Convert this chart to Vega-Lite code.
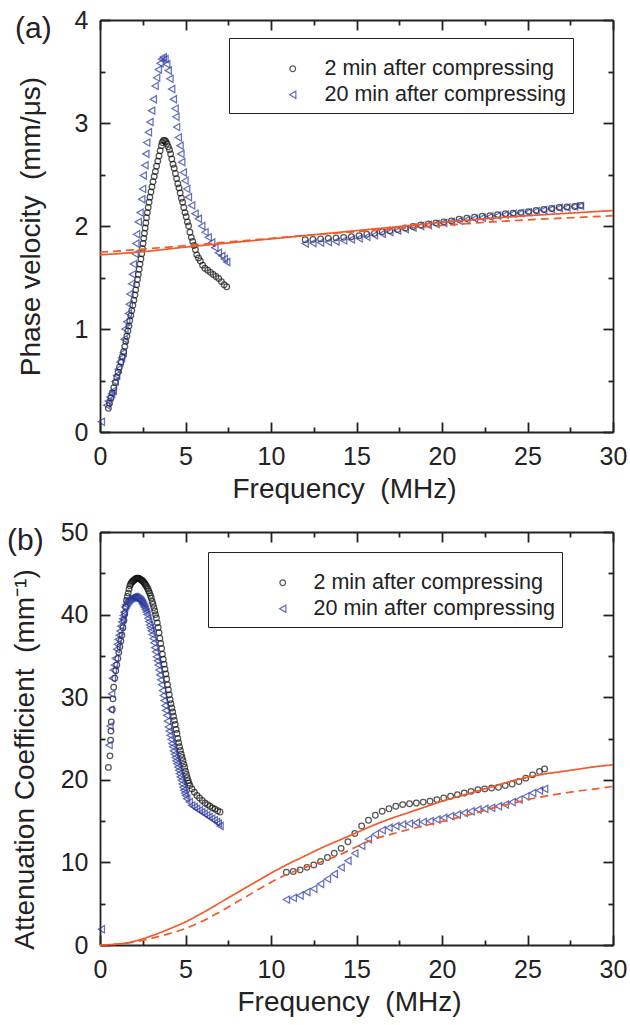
{
"$schema": "https://vega.github.io/schema/vega-lite/v6.json",
"autosize": {"type": "pad"},
"padding": {"left": 7, "top": 8, "right": 5, "bottom": 5},
"bounds": "flush",
"spacing": 100,
"config": {
  "view": {"stroke": null},
  "font": "Liberation Sans",
  "axis": {"grid": false, "domainColor": "#222", "domainWidth": 1.8, "tickColor": "#222", "tickWidth": 1.8, "tickSize": -10,
    "labelFont": "Liberation Sans", "labelFontSize": 25, "labelColor": "#222", "labelFlush": false, "labelOverlap": false, "labelBound": false,
    "titleFont": "Liberation Sans", "titleFontSize": 28, "titleFontWeight": "normal", "titleColor": "#222"},
  "legend": {"labelFont": "Liberation Sans", "labelFontSize": 21.5, "labelColor": "#222", "labelLimit": 600},
  "title": {"font": "Liberation Sans", "fontSize": 30, "fontWeight": "normal", "color": "#222"}
},
"resolve": {"scale": {"color": "independent", "shape": "independent", "size": "independent", "strokeDash": "independent"}},
"vconcat": [
{
  "width": 513, "height": 412,
  "title": {"text": "(a)", "anchor": "start", "frame": "group", "dx": -85, "dy": 40},
  "resolve": {"axis": {"x": "independent", "y": "independent"}},
  "layer": [
  {
    "data": {"values": [
{"s":"2 min after compressing","f":0.49,"v":0.23},{"s":"2 min after compressing","f":0.56,"v":0.28},{"s":"2 min after compressing","f":0.64,"v":0.33},{"s":"2 min after compressing","f":0.72,"v":0.38},{"s":"2 min after compressing","f":0.81,"v":0.43},{"s":"2 min after compressing","f":0.9,"v":0.48},{"s":"2 min after compressing","f":0.98,"v":0.53},{"s":"2 min after compressing","f":1.06,"v":0.58},{"s":"2 min after compressing","f":1.14,"v":0.63},{"s":"2 min after compressing","f":1.23,"v":0.68},{"s":"2 min after compressing","f":1.31,"v":0.73},{"s":"2 min after compressing","f":1.38,"v":0.78},{"s":"2 min after compressing","f":1.45,"v":0.83},{"s":"2 min after compressing","f":1.51,"v":0.88},{"s":"2 min after compressing","f":1.57,"v":0.93},{"s":"2 min after compressing","f":1.63,"v":0.98},{"s":"2 min after compressing","f":1.69,"v":1.03},{"s":"2 min after compressing","f":1.74,"v":1.08},{"s":"2 min after compressing","f":1.8,"v":1.13},{"s":"2 min after compressing","f":1.86,"v":1.18},{"s":"2 min after compressing","f":1.92,"v":1.23},{"s":"2 min after compressing","f":1.98,"v":1.28},{"s":"2 min after compressing","f":2.04,"v":1.33},{"s":"2 min after compressing","f":2.09,"v":1.38},{"s":"2 min after compressing","f":2.14,"v":1.43},{"s":"2 min after compressing","f":2.19,"v":1.48},{"s":"2 min after compressing","f":2.24,"v":1.53},{"s":"2 min after compressing","f":2.29,"v":1.58},{"s":"2 min after compressing","f":2.34,"v":1.63},{"s":"2 min after compressing","f":2.39,"v":1.68},{"s":"2 min after compressing","f":2.44,"v":1.73},{"s":"2 min after compressing","f":2.48,"v":1.78},{"s":"2 min after compressing","f":2.52,"v":1.83},{"s":"2 min after compressing","f":2.56,"v":1.88},{"s":"2 min after compressing","f":2.6,"v":1.93},{"s":"2 min after compressing","f":2.64,"v":1.98},{"s":"2 min after compressing","f":2.68,"v":2.03},{"s":"2 min after compressing","f":2.72,"v":2.08},{"s":"2 min after compressing","f":2.77,"v":2.13},{"s":"2 min after compressing","f":2.82,"v":2.18},{"s":"2 min after compressing","f":2.87,"v":2.23},{"s":"2 min after compressing","f":2.92,"v":2.28},{"s":"2 min after compressing","f":2.98,"v":2.33},{"s":"2 min after compressing","f":3.04,"v":2.38},{"s":"2 min after compressing","f":3.1,"v":2.43},{"s":"2 min after compressing","f":3.17,"v":2.48},{"s":"2 min after compressing","f":3.24,"v":2.53},{"s":"2 min after compressing","f":3.31,"v":2.58},{"s":"2 min after compressing","f":3.38,"v":2.63},{"s":"2 min after compressing","f":3.45,"v":2.68},{"s":"2 min after compressing","f":3.52,"v":2.73},{"s":"2 min after compressing","f":3.59,"v":2.78},{"s":"2 min after compressing","f":3.64,"v":2.81},{"s":"2 min after compressing","f":3.71,"v":2.83},{"s":"2 min after compressing","f":3.78,"v":2.83},{"s":"2 min after compressing","f":3.85,"v":2.82},{"s":"2 min after compressing","f":3.92,"v":2.8},{"s":"2 min after compressing","f":3.99,"v":2.77},{"s":"2 min after compressing","f":4.06,"v":2.74},{"s":"2 min after compressing","f":4.13,"v":2.7},{"s":"2 min after compressing","f":4.2,"v":2.65},{"s":"2 min after compressing","f":4.27,"v":2.6},{"s":"2 min after compressing","f":4.34,"v":2.56},{"s":"2 min after compressing","f":4.41,"v":2.51},{"s":"2 min after compressing","f":4.48,"v":2.46},{"s":"2 min after compressing","f":4.55,"v":2.41},{"s":"2 min after compressing","f":4.62,"v":2.37},{"s":"2 min after compressing","f":4.69,"v":2.32},{"s":"2 min after compressing","f":4.76,"v":2.27},{"s":"2 min after compressing","f":4.83,"v":2.23},{"s":"2 min after compressing","f":4.9,"v":2.18},{"s":"2 min after compressing","f":4.97,"v":2.13},{"s":"2 min after compressing","f":5.04,"v":2.09},{"s":"2 min after compressing","f":5.11,"v":2.04},{"s":"2 min after compressing","f":5.18,"v":2.0},{"s":"2 min after compressing","f":5.26,"v":1.94},{"s":"2 min after compressing","f":5.34,"v":1.89},{"s":"2 min after compressing","f":5.42,"v":1.85},{"s":"2 min after compressing","f":5.5,"v":1.81},{"s":"2 min after compressing","f":5.58,"v":1.77},{"s":"2 min after compressing","f":5.66,"v":1.72},{"s":"2 min after compressing","f":5.76,"v":1.69},{"s":"2 min after compressing","f":5.87,"v":1.66},{"s":"2 min after compressing","f":6.0,"v":1.62},{"s":"2 min after compressing","f":6.14,"v":1.59},{"s":"2 min after compressing","f":6.3,"v":1.57},{"s":"2 min after compressing","f":6.46,"v":1.55},{"s":"2 min after compressing","f":6.62,"v":1.53},{"s":"2 min after compressing","f":6.78,"v":1.51},{"s":"2 min after compressing","f":6.94,"v":1.49},{"s":"2 min after compressing","f":7.1,"v":1.46},{"s":"2 min after compressing","f":7.26,"v":1.43},{"s":"2 min after compressing","f":7.41,"v":1.41},
{"s":"2 min after compressing","f":12.0,"v":1.867},{"s":"2 min after compressing","f":12.45,"v":1.87},{"s":"2 min after compressing","f":12.9,"v":1.875},{"s":"2 min after compressing","f":13.35,"v":1.88},{"s":"2 min after compressing","f":13.8,"v":1.885},{"s":"2 min after compressing","f":14.25,"v":1.89},{"s":"2 min after compressing","f":14.7,"v":1.895},{"s":"2 min after compressing","f":15.15,"v":1.905},{"s":"2 min after compressing","f":15.6,"v":1.92},{"s":"2 min after compressing","f":16.05,"v":1.93},{"s":"2 min after compressing","f":16.5,"v":1.945},{"s":"2 min after compressing","f":16.95,"v":1.955},{"s":"2 min after compressing","f":17.4,"v":1.965},{"s":"2 min after compressing","f":17.85,"v":1.98},{"s":"2 min after compressing","f":18.3,"v":1.995},{"s":"2 min after compressing","f":18.75,"v":2.01},{"s":"2 min after compressing","f":19.2,"v":2.02},{"s":"2 min after compressing","f":19.65,"v":2.03},{"s":"2 min after compressing","f":20.1,"v":2.04},{"s":"2 min after compressing","f":20.55,"v":2.05},{"s":"2 min after compressing","f":21.0,"v":2.065},{"s":"2 min after compressing","f":21.45,"v":2.075},{"s":"2 min after compressing","f":21.9,"v":2.085},{"s":"2 min after compressing","f":22.35,"v":2.095},{"s":"2 min after compressing","f":22.8,"v":2.1},{"s":"2 min after compressing","f":23.25,"v":2.11},{"s":"2 min after compressing","f":23.7,"v":2.12},{"s":"2 min after compressing","f":24.15,"v":2.125},{"s":"2 min after compressing","f":24.6,"v":2.13},{"s":"2 min after compressing","f":25.05,"v":2.14},{"s":"2 min after compressing","f":25.5,"v":2.15},{"s":"2 min after compressing","f":25.95,"v":2.16},{"s":"2 min after compressing","f":26.4,"v":2.17},{"s":"2 min after compressing","f":26.85,"v":2.18},{"s":"2 min after compressing","f":27.3,"v":2.185},{"s":"2 min after compressing","f":27.75,"v":2.19},{"s":"2 min after compressing","f":28.1,"v":2.2},
{"s":"20 min after compressing","f":0.08,"v":0.1},{"s":"20 min after compressing","f":0.39,"v":0.26},{"s":"20 min after compressing","f":0.48,"v":0.3},{"s":"20 min after compressing","f":0.58,"v":0.34},{"s":"20 min after compressing","f":0.68,"v":0.37},{"s":"20 min after compressing","f":0.78,"v":0.4},{"s":"20 min after compressing","f":0.88,"v":0.49},{"s":"20 min after compressing","f":0.97,"v":0.55},{"s":"20 min after compressing","f":1.07,"v":0.61},{"s":"20 min after compressing","f":1.17,"v":0.68},{"s":"20 min after compressing","f":1.26,"v":0.72},{"s":"20 min after compressing","f":1.36,"v":0.77},{"s":"20 min after compressing","f":1.41,"v":0.9},{"s":"20 min after compressing","f":1.46,"v":1.0},{"s":"20 min after compressing","f":1.56,"v":1.07},{"s":"20 min after compressing","f":1.66,"v":1.15},{"s":"20 min after compressing","f":1.71,"v":1.24},{"s":"20 min after compressing","f":1.75,"v":1.34},{"s":"20 min after compressing","f":1.85,"v":1.44},{"s":"20 min after compressing","f":1.9,"v":1.53},{"s":"20 min after compressing","f":1.95,"v":1.63},{"s":"20 min after compressing","f":2.05,"v":1.73},{"s":"20 min after compressing","f":2.1,"v":1.83},{"s":"20 min after compressing","f":2.14,"v":1.92},{"s":"20 min after compressing","f":2.24,"v":2.04},{"s":"20 min after compressing","f":2.34,"v":2.13},{"s":"20 min after compressing","f":2.44,"v":2.26},{"s":"20 min after compressing","f":2.49,"v":2.36},{"s":"20 min after compressing","f":2.53,"v":2.49},{"s":"20 min after compressing","f":2.63,"v":2.59},{"s":"20 min after compressing","f":2.68,"v":2.7},{"s":"20 min after compressing","f":2.73,"v":2.81},{"s":"20 min after compressing","f":2.83,"v":2.91},{"s":"20 min after compressing","f":2.92,"v":3.01},{"s":"20 min after compressing","f":3.02,"v":3.12},{"s":"20 min after compressing","f":3.12,"v":3.23},{"s":"20 min after compressing","f":3.22,"v":3.36},{"s":"20 min after compressing","f":3.31,"v":3.44},{"s":"20 min after compressing","f":3.41,"v":3.52},{"s":"20 min after compressing","f":3.51,"v":3.58},{"s":"20 min after compressing","f":3.61,"v":3.62},{"s":"20 min after compressing","f":3.7,"v":3.64},{"s":"20 min after compressing","f":3.8,"v":3.62},{"s":"20 min after compressing","f":3.9,"v":3.57},{"s":"20 min after compressing","f":3.99,"v":3.51},{"s":"20 min after compressing","f":4.09,"v":3.43},{"s":"20 min after compressing","f":4.19,"v":3.33},{"s":"20 min after compressing","f":4.29,"v":3.23},{"s":"20 min after compressing","f":4.39,"v":3.14},{"s":"20 min after compressing","f":4.44,"v":3.06},{"s":"20 min after compressing","f":4.48,"v":2.96},{"s":"20 min after compressing","f":4.58,"v":2.86},{"s":"20 min after compressing","f":4.68,"v":2.78},{"s":"20 min after compressing","f":4.73,"v":2.7},{"s":"20 min after compressing","f":4.78,"v":2.62},{"s":"20 min after compressing","f":4.87,"v":2.52},{"s":"20 min after compressing","f":4.97,"v":2.44},{"s":"20 min after compressing","f":5.07,"v":2.36},{"s":"20 min after compressing","f":5.17,"v":2.28},{"s":"20 min after compressing","f":5.36,"v":2.2},{"s":"20 min after compressing","f":5.56,"v":2.12},{"s":"20 min after compressing","f":5.75,"v":2.07},{"s":"20 min after compressing","f":5.95,"v":2.0},{"s":"20 min after compressing","f":6.14,"v":1.94},{"s":"20 min after compressing","f":6.33,"v":1.89},{"s":"20 min after compressing","f":6.53,"v":1.84},{"s":"20 min after compressing","f":6.72,"v":1.79},{"s":"20 min after compressing","f":6.92,"v":1.74},{"s":"20 min after compressing","f":7.12,"v":1.71},{"s":"20 min after compressing","f":7.27,"v":1.68},{"s":"20 min after compressing","f":7.41,"v":1.65},
{"s":"20 min after compressing","f":12.0,"v":1.83},{"s":"20 min after compressing","f":12.45,"v":1.835},{"s":"20 min after compressing","f":12.9,"v":1.84},{"s":"20 min after compressing","f":13.35,"v":1.845},{"s":"20 min after compressing","f":13.8,"v":1.85},{"s":"20 min after compressing","f":14.25,"v":1.86},{"s":"20 min after compressing","f":14.7,"v":1.87},{"s":"20 min after compressing","f":15.15,"v":1.88},{"s":"20 min after compressing","f":15.6,"v":1.895},{"s":"20 min after compressing","f":16.05,"v":1.91},{"s":"20 min after compressing","f":16.5,"v":1.925},{"s":"20 min after compressing","f":16.95,"v":1.94},{"s":"20 min after compressing","f":17.4,"v":1.955},{"s":"20 min after compressing","f":17.85,"v":1.97},{"s":"20 min after compressing","f":18.3,"v":1.985},{"s":"20 min after compressing","f":18.75,"v":2.0},{"s":"20 min after compressing","f":19.2,"v":2.01},{"s":"20 min after compressing","f":19.65,"v":2.02},{"s":"20 min after compressing","f":20.1,"v":2.03},{"s":"20 min after compressing","f":20.55,"v":2.04},{"s":"20 min after compressing","f":21.0,"v":2.05},{"s":"20 min after compressing","f":21.45,"v":2.06},{"s":"20 min after compressing","f":21.9,"v":2.07},{"s":"20 min after compressing","f":22.35,"v":2.08},{"s":"20 min after compressing","f":22.8,"v":2.09},{"s":"20 min after compressing","f":23.25,"v":2.1},{"s":"20 min after compressing","f":23.7,"v":2.11},{"s":"20 min after compressing","f":24.15,"v":2.12},{"s":"20 min after compressing","f":24.6,"v":2.125},{"s":"20 min after compressing","f":25.05,"v":2.135},{"s":"20 min after compressing","f":25.5,"v":2.145},{"s":"20 min after compressing","f":25.95,"v":2.155},{"s":"20 min after compressing","f":26.4,"v":2.165},{"s":"20 min after compressing","f":26.85,"v":2.175},{"s":"20 min after compressing","f":27.3,"v":2.18},{"s":"20 min after compressing","f":27.75,"v":2.19},{"s":"20 min after compressing","f":28.1,"v":2.195}
    ]},
    "mark": {"type": "point", "filled": false, "strokeWidth": 1.25, "clip": false},
    "encoding": {
      "x": {"field": "f", "type": "quantitative", "scale": {"domain": [0, 30], "nice": false, "zero": false},
        "axis": {"orient": "bottom", "values": [0,2.5,5,7.5,10,12.5,15,17.5,20,22.5,25,27.5,30], "format": "~g",
          "labelExpr": "datum.value % 5 === 0 ? datum.label : ''",
          "tickDash": {"condition": {"test": "datum.value % 5 !== 0", "value": [5, 30]}, "value": [20, 0]},
          "labelPadding": 22, "title": "Frequency\u00a0\u00a0(MHz)", "titlePadding": 6, "titleX": 244}},
      "y": {"field": "v", "type": "quantitative", "scale": {"domain": [0, 4], "nice": false, "zero": false},
        "axis": {"orient": "left", "values": [0,0.5,1,1.5,2,2.5,3,3.5,4], "format": "~g",
          "labelExpr": "datum.value % 1 === 0 ? datum.label : ''",
          "tickDash": {"condition": {"test": "datum.value % 1 !== 0", "value": [5, 30]}, "value": [20, 0]},
          "labelPadding": 22, "title": "Phase velocity\u00a0\u00a0(mm/μs)", "titlePadding": 29}},
      "shape": {"field": "s", "type": "nominal",
        "scale": {"domain": ["2 min after compressing", "20 min after compressing"], "range": ["circle", "triangle-left"]},
        "legend": {"orient": "none", "legendX": 129, "legendY": 18, "title": "\u00a0", "titleFontSize": 10, "titlePadding": 3, "strokeColor": "#222", "fillColor": "white", "padding": 7, "symbolOffset": 46, "labelOffset": 21, "rowPadding": 3, "symbolSize": 34, "symbolStrokeWidth": 1.2,
          "labelExpr": "datum.label + '\u00a0\u00a0\u00a0\u00a0'"}},
      "color": {"field": "s", "type": "nominal",
        "scale": {"domain": ["2 min after compressing", "20 min after compressing"], "range": ["#111111", "#26359c"]},
        "legend": {"orient": "none", "legendX": 129, "legendY": 18, "title": "\u00a0", "titleFontSize": 10, "titlePadding": 3, "strokeColor": "#222", "fillColor": "white", "padding": 7, "symbolOffset": 46, "labelOffset": 21, "rowPadding": 3, "symbolSize": 34, "symbolStrokeWidth": 1.2,
          "labelExpr": "datum.label + '\u00a0\u00a0\u00a0\u00a0'"}},
      "size": {"field": "s", "type": "nominal",
        "scale": {"domain": ["2 min after compressing", "20 min after compressing"], "range": [32, 52]}, "legend": null}
    }
  },
  {
    "data": {"values": [
{"m":"solid","f":0,"v":1.72},{"m":"solid","f":2.5,"v":1.75},{"m":"solid","f":5,"v":1.795},{"m":"solid","f":7.5,"v":1.835},{"m":"solid","f":10,"v":1.875},{"m":"solid","f":12.5,"v":1.915},{"m":"solid","f":15,"v":1.955},{"m":"solid","f":17.5,"v":1.995},{"m":"solid","f":20,"v":2.035},{"m":"solid","f":22.5,"v":2.07},{"m":"solid","f":25,"v":2.1},{"m":"solid","f":27.5,"v":2.125},{"m":"solid","f":30,"v":2.15},
{"m":"dashed","f":0,"v":1.745},{"m":"dashed","f":2.5,"v":1.775},{"m":"dashed","f":5,"v":1.81},{"m":"dashed","f":7.5,"v":1.845},{"m":"dashed","f":10,"v":1.88},{"m":"dashed","f":12.5,"v":1.915},{"m":"dashed","f":15,"v":1.945},{"m":"dashed","f":17.5,"v":1.975},{"m":"dashed","f":20,"v":2.005},{"m":"dashed","f":22.5,"v":2.035},{"m":"dashed","f":25,"v":2.06},{"m":"dashed","f":27.5,"v":2.08},{"m":"dashed","f":30,"v":2.1}
    ]},
    "mark": {"type": "line", "color": "#f15a29", "strokeWidth": 1.7, "interpolate": "monotone"},
    "encoding": {
      "x": {"field": "f", "type": "quantitative", "scale": {"domain": [0, 30], "nice": false, "zero": false},
        "axis": {"orient": "top", "values": [0,2.5,5,7.5,10,12.5,15,17.5,20,22.5,25,27.5,30], "labels": false, "title": null,
          "tickDash": {"condition": {"test": "datum.value % 5 !== 0", "value": [5, 30]}, "value": [20, 0]}}},
      "y": {"field": "v", "type": "quantitative", "scale": {"domain": [0, 4], "nice": false, "zero": false},
        "axis": {"orient": "right", "values": [0,0.5,1,1.5,2,2.5,3,3.5,4], "labels": false, "title": null,
          "tickDash": {"condition": {"test": "datum.value % 1 !== 0", "value": [5, 30]}, "value": [20, 0]}}},
      "strokeDash": {"field": "m", "type": "nominal", "scale": {"domain": ["solid", "dashed"], "range": [[1, 0], [8, 5]]}, "legend": null}
    }
  }
  ]
},
{
  "width": 513, "height": 413,
  "title": {"text": "(b)", "anchor": "start", "frame": "group", "dx": -93, "dy": 40},
  "resolve": {"axis": {"x": "independent", "y": "independent"}},
  "layer": [
  {
    "data": {"values": [
{"s":"2 min after compressing","f":0.49,"v":21.5},{"s":"2 min after compressing","f":0.58,"v":22.9},{"s":"2 min after compressing","f":0.62,"v":24.8},{"s":"2 min after compressing","f":0.64,"v":25.9},{"s":"2 min after compressing","f":0.66,"v":27.0},{"s":"2 min after compressing","f":0.72,"v":28.5},{"s":"2 min after compressing","f":0.76,"v":29.8},{"s":"2 min after compressing","f":0.8,"v":31.2},{"s":"2 min after compressing","f":0.86,"v":32.3},{"s":"2 min after compressing","f":0.92,"v":33.2},{"s":"2 min after compressing","f":0.98,"v":33.9},{"s":"2 min after compressing","f":1.04,"v":34.7},{"s":"2 min after compressing","f":1.1,"v":35.4},{"s":"2 min after compressing","f":1.16,"v":36.1},{"s":"2 min after compressing","f":1.22,"v":36.8},{"s":"2 min after compressing","f":1.28,"v":37.5},{"s":"2 min after compressing","f":1.34,"v":38.4},{"s":"2 min after compressing","f":1.4,"v":39.3},{"s":"2 min after compressing","f":1.45,"v":40.1},{"s":"2 min after compressing","f":1.5,"v":40.9},{"s":"2 min after compressing","f":1.55,"v":41.7},{"s":"2 min after compressing","f":1.6,"v":42.2},{"s":"2 min after compressing","f":1.65,"v":42.6},{"s":"2 min after compressing","f":1.7,"v":43.1},{"s":"2 min after compressing","f":1.75,"v":43.5},{"s":"2 min after compressing","f":1.8,"v":43.7},{"s":"2 min after compressing","f":1.85,"v":43.9},{"s":"2 min after compressing","f":1.9,"v":44.0},{"s":"2 min after compressing","f":1.95,"v":44.1},{"s":"2 min after compressing","f":2.0,"v":44.2},{"s":"2 min after compressing","f":2.05,"v":44.3},{"s":"2 min after compressing","f":2.1,"v":44.35},{"s":"2 min after compressing","f":2.15,"v":44.4},{"s":"2 min after compressing","f":2.2,"v":44.4},{"s":"2 min after compressing","f":2.25,"v":44.4},{"s":"2 min after compressing","f":2.3,"v":44.35},{"s":"2 min after compressing","f":2.35,"v":44.3},{"s":"2 min after compressing","f":2.4,"v":44.2},{"s":"2 min after compressing","f":2.45,"v":44.15},{"s":"2 min after compressing","f":2.5,"v":44.05},{"s":"2 min after compressing","f":2.55,"v":43.95},{"s":"2 min after compressing","f":2.6,"v":43.8},{"s":"2 min after compressing","f":2.65,"v":43.65},{"s":"2 min after compressing","f":2.7,"v":43.5},{"s":"2 min after compressing","f":2.75,"v":43.3},{"s":"2 min after compressing","f":2.8,"v":43.1},{"s":"2 min after compressing","f":2.85,"v":42.85},{"s":"2 min after compressing","f":2.9,"v":42.6},{"s":"2 min after compressing","f":2.95,"v":42.3},{"s":"2 min after compressing","f":3.0,"v":42.0},{"s":"2 min after compressing","f":3.05,"v":41.6},{"s":"2 min after compressing","f":3.1,"v":41.25},{"s":"2 min after compressing","f":3.15,"v":40.85},{"s":"2 min after compressing","f":3.2,"v":40.45},{"s":"2 min after compressing","f":3.25,"v":40.0},{"s":"2 min after compressing","f":3.3,"v":39.6},{"s":"2 min after compressing","f":3.35,"v":39.0},{"s":"2 min after compressing","f":3.4,"v":38.45},{"s":"2 min after compressing","f":3.45,"v":37.8},{"s":"2 min after compressing","f":3.5,"v":37.15},{"s":"2 min after compressing","f":3.55,"v":36.5},{"s":"2 min after compressing","f":3.6,"v":35.9},{"s":"2 min after compressing","f":3.65,"v":35.2},{"s":"2 min after compressing","f":3.7,"v":34.6},{"s":"2 min after compressing","f":3.75,"v":34.0},{"s":"2 min after compressing","f":3.8,"v":33.4},{"s":"2 min after compressing","f":3.85,"v":32.8},{"s":"2 min after compressing","f":3.9,"v":32.2},{"s":"2 min after compressing","f":3.95,"v":31.5},{"s":"2 min after compressing","f":4.0,"v":30.9},{"s":"2 min after compressing","f":4.05,"v":30.3},{"s":"2 min after compressing","f":4.1,"v":29.7},{"s":"2 min after compressing","f":4.15,"v":29.2},{"s":"2 min after compressing","f":4.2,"v":28.7},{"s":"2 min after compressing","f":4.25,"v":28.2},{"s":"2 min after compressing","f":4.3,"v":27.7},{"s":"2 min after compressing","f":4.35,"v":27.2},{"s":"2 min after compressing","f":4.4,"v":26.7},{"s":"2 min after compressing","f":4.45,"v":26.1},{"s":"2 min after compressing","f":4.5,"v":25.6},{"s":"2 min after compressing","f":4.55,"v":25.0},{"s":"2 min after compressing","f":4.6,"v":24.5},{"s":"2 min after compressing","f":4.65,"v":24.0},{"s":"2 min after compressing","f":4.7,"v":23.55},{"s":"2 min after compressing","f":4.75,"v":23.1},{"s":"2 min after compressing","f":4.8,"v":22.7},{"s":"2 min after compressing","f":4.85,"v":22.3},{"s":"2 min after compressing","f":4.9,"v":21.9},{"s":"2 min after compressing","f":4.95,"v":21.5},{"s":"2 min after compressing","f":5.0,"v":21.05},{"s":"2 min after compressing","f":5.05,"v":20.65},{"s":"2 min after compressing","f":5.1,"v":20.25},{"s":"2 min after compressing","f":5.15,"v":19.9},{"s":"2 min after compressing","f":5.2,"v":19.6},{"s":"2 min after compressing","f":5.26,"v":19.3},{"s":"2 min after compressing","f":5.38,"v":18.9},{"s":"2 min after compressing","f":5.52,"v":18.5},{"s":"2 min after compressing","f":5.67,"v":18.1},{"s":"2 min after compressing","f":5.82,"v":17.8},{"s":"2 min after compressing","f":5.98,"v":17.5},{"s":"2 min after compressing","f":6.14,"v":17.2},{"s":"2 min after compressing","f":6.29,"v":17.0},{"s":"2 min after compressing","f":6.43,"v":16.8},{"s":"2 min after compressing","f":6.58,"v":16.6},{"s":"2 min after compressing","f":6.73,"v":16.45},{"s":"2 min after compressing","f":6.88,"v":16.25},{"s":"2 min after compressing","f":7.02,"v":16.1},
{"s":"2 min after compressing","f":10.9,"v":8.8},{"s":"2 min after compressing","f":11.3,"v":8.9},{"s":"2 min after compressing","f":11.7,"v":9.1},{"s":"2 min after compressing","f":12.1,"v":9.4},{"s":"2 min after compressing","f":12.5,"v":9.7},{"s":"2 min after compressing","f":12.9,"v":10.1},{"s":"2 min after compressing","f":13.3,"v":10.6},{"s":"2 min after compressing","f":13.7,"v":11.1},{"s":"2 min after compressing","f":14.1,"v":11.7},{"s":"2 min after compressing","f":14.5,"v":12.5},{"s":"2 min after compressing","f":14.9,"v":13.5},{"s":"2 min after compressing","f":15.3,"v":14.4},{"s":"2 min after compressing","f":15.7,"v":15.1},{"s":"2 min after compressing","f":16.1,"v":15.7},{"s":"2 min after compressing","f":16.5,"v":16.2},{"s":"2 min after compressing","f":16.9,"v":16.5},{"s":"2 min after compressing","f":17.3,"v":16.8},{"s":"2 min after compressing","f":17.7,"v":17.0},{"s":"2 min after compressing","f":18.1,"v":17.1},{"s":"2 min after compressing","f":18.5,"v":17.2},{"s":"2 min after compressing","f":18.9,"v":17.3},{"s":"2 min after compressing","f":19.3,"v":17.4},{"s":"2 min after compressing","f":19.7,"v":17.6},{"s":"2 min after compressing","f":20.1,"v":17.8},{"s":"2 min after compressing","f":20.5,"v":18.0},{"s":"2 min after compressing","f":20.9,"v":18.2},{"s":"2 min after compressing","f":21.3,"v":18.4},{"s":"2 min after compressing","f":21.7,"v":18.6},{"s":"2 min after compressing","f":22.1,"v":18.8},{"s":"2 min after compressing","f":22.5,"v":18.9},{"s":"2 min after compressing","f":22.9,"v":19.0},{"s":"2 min after compressing","f":23.3,"v":19.1},{"s":"2 min after compressing","f":23.7,"v":19.3},{"s":"2 min after compressing","f":24.1,"v":19.5},{"s":"2 min after compressing","f":24.5,"v":19.8},{"s":"2 min after compressing","f":24.9,"v":20.2},{"s":"2 min after compressing","f":25.3,"v":20.6},{"s":"2 min after compressing","f":25.7,"v":21.0},{"s":"2 min after compressing","f":26.0,"v":21.3},
{"s":"20 min after compressing","f":0.08,"v":1.9},{"s":"20 min after compressing","f":0.53,"v":24.2},{"s":"20 min after compressing","f":0.58,"v":26.5},{"s":"20 min after compressing","f":0.62,"v":28.5},{"s":"20 min after compressing","f":0.68,"v":30.4},{"s":"20 min after compressing","f":0.72,"v":32.3},{"s":"20 min after compressing","f":0.78,"v":33.3},{"s":"20 min after compressing","f":0.84,"v":33.9},{"s":"20 min after compressing","f":0.9,"v":34.7},{"s":"20 min after compressing","f":0.97,"v":35.8},{"s":"20 min after compressing","f":1.02,"v":36.4},{"s":"20 min after compressing","f":1.07,"v":37.0},{"s":"20 min after compressing","f":1.12,"v":37.5},{"s":"20 min after compressing","f":1.17,"v":38.0},{"s":"20 min after compressing","f":1.22,"v":38.6},{"s":"20 min after compressing","f":1.27,"v":39.1},{"s":"20 min after compressing","f":1.32,"v":39.5},{"s":"20 min after compressing","f":1.36,"v":39.9},{"s":"20 min after compressing","f":1.4,"v":40.3},{"s":"20 min after compressing","f":1.46,"v":40.9},{"s":"20 min after compressing","f":1.52,"v":41.2},{"s":"20 min after compressing","f":1.58,"v":41.4},{"s":"20 min after compressing","f":1.64,"v":41.6},{"s":"20 min after compressing","f":1.7,"v":41.75},{"s":"20 min after compressing","f":1.76,"v":41.9},{"s":"20 min after compressing","f":1.82,"v":42.0},{"s":"20 min after compressing","f":1.88,"v":42.05},{"s":"20 min after compressing","f":1.94,"v":42.1},{"s":"20 min after compressing","f":2.0,"v":42.1},{"s":"20 min after compressing","f":2.06,"v":42.1},{"s":"20 min after compressing","f":2.12,"v":42.05},{"s":"20 min after compressing","f":2.18,"v":42.0},{"s":"20 min after compressing","f":2.24,"v":41.9},{"s":"20 min after compressing","f":2.3,"v":41.8},{"s":"20 min after compressing","f":2.36,"v":41.7},{"s":"20 min after compressing","f":2.42,"v":41.55},{"s":"20 min after compressing","f":2.46,"v":41.4},{"s":"20 min after compressing","f":2.5,"v":41.25},{"s":"20 min after compressing","f":2.55,"v":41.05},{"s":"20 min after compressing","f":2.6,"v":40.85},{"s":"20 min after compressing","f":2.65,"v":40.6},{"s":"20 min after compressing","f":2.7,"v":40.3},{"s":"20 min after compressing","f":2.75,"v":40.0},{"s":"20 min after compressing","f":2.8,"v":39.55},{"s":"20 min after compressing","f":2.85,"v":39.15},{"s":"20 min after compressing","f":2.9,"v":38.75},{"s":"20 min after compressing","f":2.95,"v":38.4},{"s":"20 min after compressing","f":3.0,"v":38.05},{"s":"20 min after compressing","f":3.05,"v":37.6},{"s":"20 min after compressing","f":3.1,"v":37.1},{"s":"20 min after compressing","f":3.15,"v":36.6},{"s":"20 min after compressing","f":3.2,"v":36.0},{"s":"20 min after compressing","f":3.25,"v":35.5},{"s":"20 min after compressing","f":3.3,"v":34.9},{"s":"20 min after compressing","f":3.35,"v":34.4},{"s":"20 min after compressing","f":3.4,"v":33.9},{"s":"20 min after compressing","f":3.45,"v":33.3},{"s":"20 min after compressing","f":3.5,"v":32.7},{"s":"20 min after compressing","f":3.55,"v":32.1},{"s":"20 min after compressing","f":3.6,"v":31.5},{"s":"20 min after compressing","f":3.65,"v":30.8},{"s":"20 min after compressing","f":3.7,"v":30.2},{"s":"20 min after compressing","f":3.75,"v":29.6},{"s":"20 min after compressing","f":3.8,"v":29.0},{"s":"20 min after compressing","f":3.85,"v":28.4},{"s":"20 min after compressing","f":3.9,"v":27.8},{"s":"20 min after compressing","f":3.95,"v":27.1},{"s":"20 min after compressing","f":4.0,"v":26.4},{"s":"20 min after compressing","f":4.05,"v":25.9},{"s":"20 min after compressing","f":4.1,"v":25.4},{"s":"20 min after compressing","f":4.15,"v":24.9},{"s":"20 min after compressing","f":4.2,"v":24.4},{"s":"20 min after compressing","f":4.25,"v":24.0},{"s":"20 min after compressing","f":4.3,"v":23.5},{"s":"20 min after compressing","f":4.35,"v":23.1},{"s":"20 min after compressing","f":4.4,"v":22.7},{"s":"20 min after compressing","f":4.45,"v":22.3},{"s":"20 min after compressing","f":4.5,"v":21.95},{"s":"20 min after compressing","f":4.55,"v":21.55},{"s":"20 min after compressing","f":4.6,"v":21.15},{"s":"20 min after compressing","f":4.65,"v":20.75},{"s":"20 min after compressing","f":4.7,"v":20.35},{"s":"20 min after compressing","f":4.75,"v":19.95},{"s":"20 min after compressing","f":4.8,"v":19.5},{"s":"20 min after compressing","f":4.85,"v":19.1},{"s":"20 min after compressing","f":4.9,"v":18.75},{"s":"20 min after compressing","f":4.95,"v":18.4},{"s":"20 min after compressing","f":5.0,"v":18.1},{"s":"20 min after compressing","f":5.07,"v":17.7},{"s":"20 min after compressing","f":5.22,"v":17.3},{"s":"20 min after compressing","f":5.36,"v":16.9},{"s":"20 min after compressing","f":5.51,"v":16.7},{"s":"20 min after compressing","f":5.65,"v":16.5},{"s":"20 min after compressing","f":5.8,"v":16.3},{"s":"20 min after compressing","f":5.95,"v":16.1},{"s":"20 min after compressing","f":6.09,"v":15.9},{"s":"20 min after compressing","f":6.24,"v":15.7},{"s":"20 min after compressing","f":6.38,"v":15.5},{"s":"20 min after compressing","f":6.53,"v":15.3},{"s":"20 min after compressing","f":6.68,"v":15.1},{"s":"20 min after compressing","f":6.82,"v":14.9},{"s":"20 min after compressing","f":6.92,"v":14.7},{"s":"20 min after compressing","f":7.02,"v":14.4},
{"s":"20 min after compressing","f":10.9,"v":5.5},{"s":"20 min after compressing","f":11.3,"v":5.7},{"s":"20 min after compressing","f":11.7,"v":6.0},{"s":"20 min after compressing","f":12.1,"v":6.4},{"s":"20 min after compressing","f":12.5,"v":6.8},{"s":"20 min after compressing","f":12.9,"v":7.4},{"s":"20 min after compressing","f":13.3,"v":8.0},{"s":"20 min after compressing","f":13.7,"v":8.6},{"s":"20 min after compressing","f":14.1,"v":9.4},{"s":"20 min after compressing","f":14.5,"v":10.2},{"s":"20 min after compressing","f":14.9,"v":11.1},{"s":"20 min after compressing","f":15.3,"v":12.0},{"s":"20 min after compressing","f":15.7,"v":12.8},{"s":"20 min after compressing","f":16.1,"v":13.4},{"s":"20 min after compressing","f":16.5,"v":13.9},{"s":"20 min after compressing","f":16.9,"v":14.2},{"s":"20 min after compressing","f":17.3,"v":14.4},{"s":"20 min after compressing","f":17.7,"v":14.6},{"s":"20 min after compressing","f":18.1,"v":14.7},{"s":"20 min after compressing","f":18.5,"v":14.8},{"s":"20 min after compressing","f":18.9,"v":14.9},{"s":"20 min after compressing","f":19.3,"v":15.0},{"s":"20 min after compressing","f":19.7,"v":15.2},{"s":"20 min after compressing","f":20.1,"v":15.4},{"s":"20 min after compressing","f":20.5,"v":15.6},{"s":"20 min after compressing","f":20.9,"v":15.8},{"s":"20 min after compressing","f":21.3,"v":16.0},{"s":"20 min after compressing","f":21.7,"v":16.2},{"s":"20 min after compressing","f":22.1,"v":16.4},{"s":"20 min after compressing","f":22.5,"v":16.5},{"s":"20 min after compressing","f":22.9,"v":16.6},{"s":"20 min after compressing","f":23.3,"v":16.8},{"s":"20 min after compressing","f":23.7,"v":17.0},{"s":"20 min after compressing","f":24.1,"v":17.3},{"s":"20 min after compressing","f":24.5,"v":17.6},{"s":"20 min after compressing","f":24.9,"v":18.0},{"s":"20 min after compressing","f":25.3,"v":18.4},{"s":"20 min after compressing","f":25.7,"v":18.7},{"s":"20 min after compressing","f":26.0,"v":18.9}
    ]},
    "mark": {"type": "point", "filled": false, "strokeWidth": 1.25, "clip": false},
    "encoding": {
      "x": {"field": "f", "type": "quantitative", "scale": {"domain": [0, 30], "nice": false, "zero": false},
        "axis": {"orient": "bottom", "values": [0,2.5,5,7.5,10,12.5,15,17.5,20,22.5,25,27.5,30], "format": "~g",
          "labelExpr": "datum.value % 5 === 0 ? datum.label : ''",
          "tickDash": {"condition": {"test": "datum.value % 5 !== 0", "value": [5, 30]}, "value": [20, 0]},
          "labelPadding": 22, "title": "Frequency\u00a0\u00a0(MHz)", "titlePadding": 6, "titleX": 249}},
      "y": {"field": "v", "type": "quantitative", "scale": {"domain": [0, 50], "nice": false, "zero": false},
        "axis": {"orient": "left", "values": [0,5,10,15,20,25,30,35,40,45,50], "format": "~g",
          "labelExpr": "datum.value % 10 === 0 ? datum.label : ''",
          "tickDash": {"condition": {"test": "datum.value % 10 !== 0", "value": [5, 30]}, "value": [20, 0]},
          "labelPadding": 22, "title": "Attenuation Coefficient\u00a0\u00a0(mm⁻¹)", "titlePadding": 21, "titleY": 227}},
      "shape": {"field": "s", "type": "nominal",
        "scale": {"domain": ["2 min after compressing", "20 min after compressing"], "range": ["circle", "triangle-left"]},
        "legend": {"orient": "none", "legendX": 108, "legendY": 20, "title": "\u00a0", "titleFontSize": 10, "titlePadding": 3, "strokeColor": "#222", "fillColor": "white", "padding": 7, "symbolOffset": 57, "labelOffset": 20, "rowPadding": 3, "symbolSize": 34, "symbolStrokeWidth": 1.2,
          "labelExpr": "datum.label + '\u00a0\u00a0\u00a0\u00a0'"}},
      "color": {"field": "s", "type": "nominal",
        "scale": {"domain": ["2 min after compressing", "20 min after compressing"], "range": ["#111111", "#26359c"]},
        "legend": {"orient": "none", "legendX": 108, "legendY": 20, "title": "\u00a0", "titleFontSize": 10, "titlePadding": 3, "strokeColor": "#222", "fillColor": "white", "padding": 7, "symbolOffset": 57, "labelOffset": 20, "rowPadding": 3, "symbolSize": 34, "symbolStrokeWidth": 1.2,
          "labelExpr": "datum.label + '\u00a0\u00a0\u00a0\u00a0'"}},
      "size": {"field": "s", "type": "nominal",
        "scale": {"domain": ["2 min after compressing", "20 min after compressing"], "range": [32, 52]}, "legend": null}
    }
  },
  {
    "data": {"values": [
{"m":"solid","f":0,"v":0},{"m":"solid","f":1,"v":0.1},{"m":"solid","f":2,"v":0.45},{"m":"solid","f":3,"v":1.1},{"m":"solid","f":4,"v":1.9},{"m":"solid","f":5,"v":2.8},{"m":"solid","f":6,"v":3.9},{"m":"solid","f":7,"v":5.1},{"m":"solid","f":8,"v":6.3},{"m":"solid","f":9,"v":7.5},{"m":"solid","f":10,"v":8.7},{"m":"solid","f":11,"v":9.8},{"m":"solid","f":12,"v":10.8},{"m":"solid","f":13,"v":11.8},{"m":"solid","f":14,"v":12.7},{"m":"solid","f":15,"v":13.6},{"m":"solid","f":16,"v":14.5},{"m":"solid","f":17,"v":15.3},{"m":"solid","f":18,"v":16.0},{"m":"solid","f":19,"v":16.7},{"m":"solid","f":20,"v":17.4},{"m":"solid","f":21,"v":18.0},{"m":"solid","f":22,"v":18.6},{"m":"solid","f":23,"v":19.2},{"m":"solid","f":24,"v":19.8},{"m":"solid","f":25,"v":20.3},{"m":"solid","f":26,"v":20.7},{"m":"solid","f":27,"v":21.0},{"m":"solid","f":28,"v":21.3},{"m":"solid","f":29,"v":21.6},{"m":"solid","f":30,"v":21.8},
{"m":"dashed","f":0,"v":0},{"m":"dashed","f":1,"v":0.1},{"m":"dashed","f":2,"v":0.35},{"m":"dashed","f":3,"v":0.8},{"m":"dashed","f":4,"v":1.35},{"m":"dashed","f":5,"v":2.0},{"m":"dashed","f":6,"v":2.9},{"m":"dashed","f":7,"v":4.0},{"m":"dashed","f":8,"v":5.2},{"m":"dashed","f":9,"v":6.4},{"m":"dashed","f":10,"v":7.6},{"m":"dashed","f":11,"v":8.6},{"m":"dashed","f":12,"v":9.4},{"m":"dashed","f":13,"v":10.1},{"m":"dashed","f":14,"v":10.9},{"m":"dashed","f":15,"v":11.9},{"m":"dashed","f":16,"v":12.8},{"m":"dashed","f":17,"v":13.4},{"m":"dashed","f":18,"v":13.95},{"m":"dashed","f":19,"v":14.45},{"m":"dashed","f":20,"v":14.95},{"m":"dashed","f":21,"v":15.45},{"m":"dashed","f":22,"v":16.0},{"m":"dashed","f":23,"v":16.6},{"m":"dashed","f":24,"v":17.1},{"m":"dashed","f":25,"v":17.6},{"m":"dashed","f":26,"v":18.0},{"m":"dashed","f":27,"v":18.35},{"m":"dashed","f":28,"v":18.65},{"m":"dashed","f":29,"v":18.9},{"m":"dashed","f":30,"v":19.2}
    ]},
    "mark": {"type": "line", "color": "#f15a29", "strokeWidth": 1.7, "interpolate": "monotone"},
    "encoding": {
      "x": {"field": "f", "type": "quantitative", "scale": {"domain": [0, 30], "nice": false, "zero": false},
        "axis": {"orient": "top", "values": [0,2.5,5,7.5,10,12.5,15,17.5,20,22.5,25,27.5,30], "labels": false, "title": null,
          "tickDash": {"condition": {"test": "datum.value % 5 !== 0", "value": [5, 30]}, "value": [20, 0]}}},
      "y": {"field": "v", "type": "quantitative", "scale": {"domain": [0, 50], "nice": false, "zero": false},
        "axis": {"orient": "right", "values": [0,5,10,15,20,25,30,35,40,45,50], "labels": false, "title": null,
          "tickDash": {"condition": {"test": "datum.value % 10 !== 0", "value": [5, 30]}, "value": [20, 0]}}},
      "strokeDash": {"field": "m", "type": "nominal", "scale": {"domain": ["solid", "dashed"], "range": [[1, 0], [8, 5]]}, "legend": null}
    }
  }
  ]
}
]
}
